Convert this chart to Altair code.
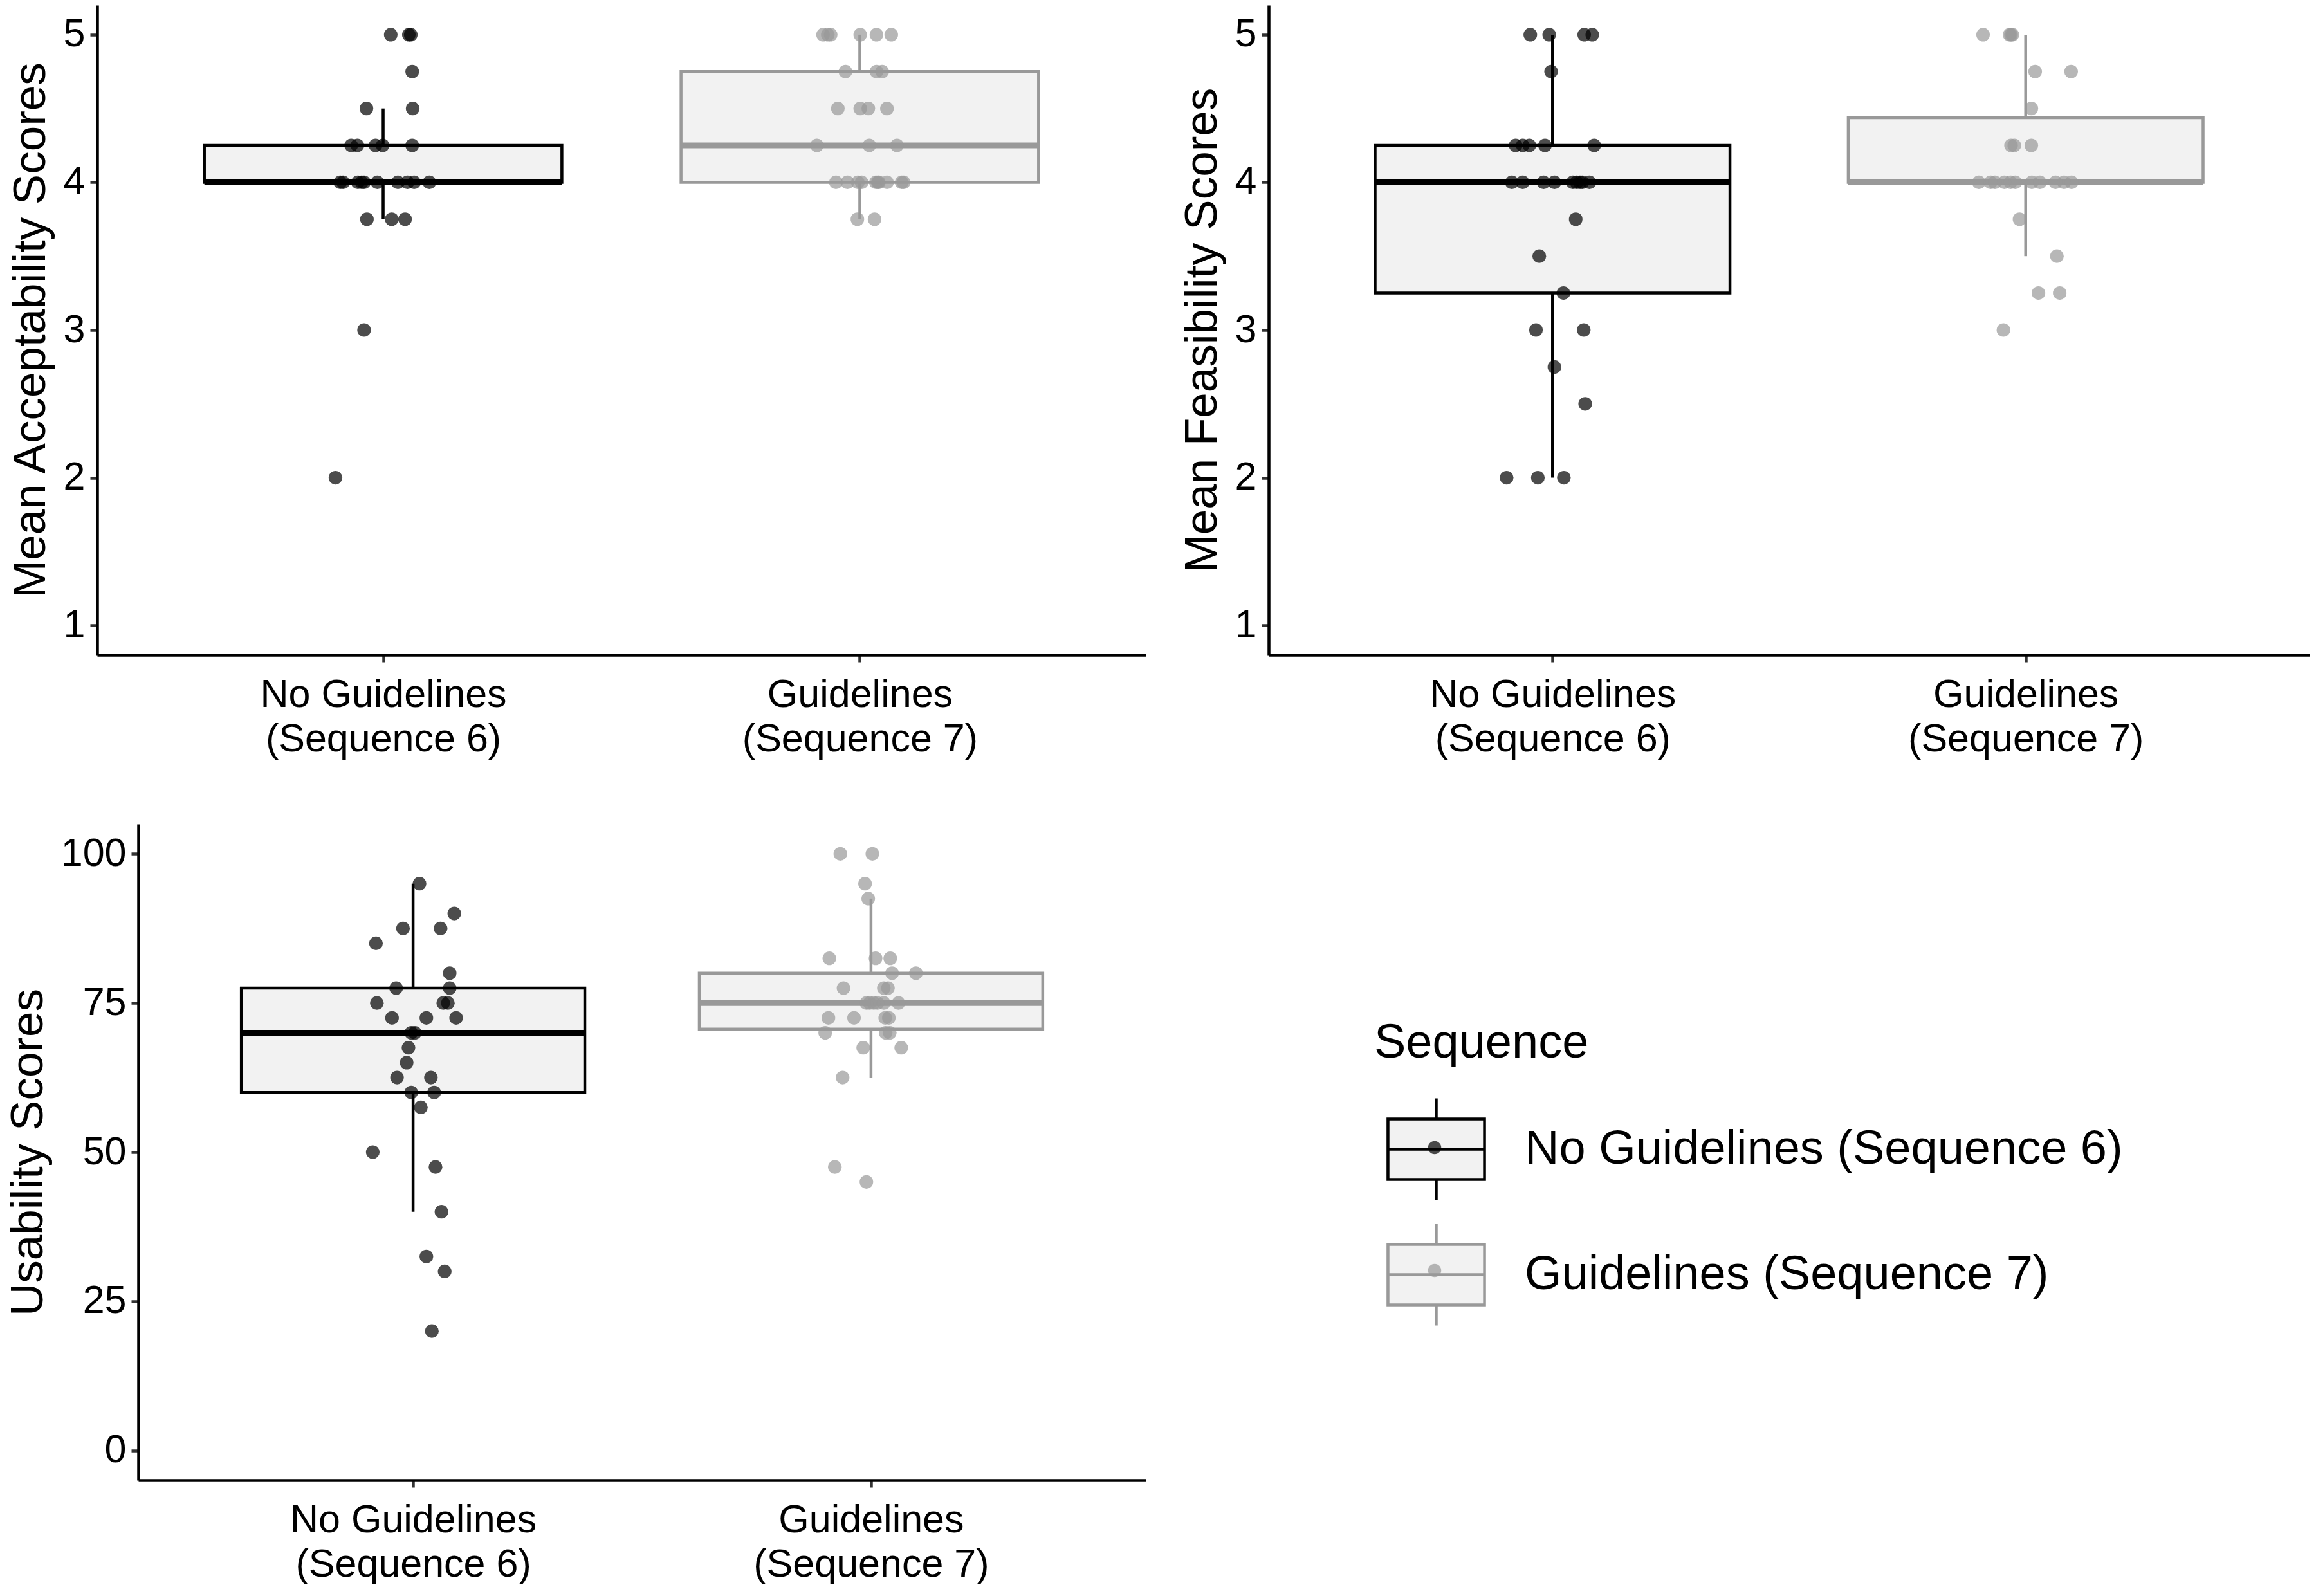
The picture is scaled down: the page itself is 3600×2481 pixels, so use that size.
import json
import altair as alt
import numpy as np
import pandas as pd

FONT = "Liberation Sans"
C_NO = "#000000"
C_YES = "#999999"
BOX_FILL = "#f2f2f2"

# ---- categories ----
groups = ["No Guidelines (Sequence 6)", "Guidelines (Sequence 7)"]
group_keys = ["S6", "S7"]
tick_lines = [["No Guidelines", "(Sequence 6)"], ["Guidelines", "(Sequence 7)"]]

# ---- Mean Acceptability Scores ----
acc_no = [5, 5, 5, 4.75, 4.5, 4.5, 4.25, 4.25, 4.25, 4.25, 4.25,
          4, 4, 4, 4, 4, 4, 4, 4, 4, 4, 3.75, 3.75, 3.75, 3, 2]
acc_no_jit = [0.016, 0.054, 0.058, 0.061, -0.035, 0.062, -0.067, -0.054, -0.016, -0.001, 0.061,
              -0.090, -0.084, -0.053, -0.045, -0.040, -0.012, 0.031, 0.051, 0.065, 0.097,
              -0.034, 0.018, 0.046, -0.040, -0.100]
acc_yes = [5, 5, 5, 5, 5, 5, 4.75, 4.75, 4.75, 4.5, 4.5, 4.5, 4.5, 4.25, 4.25, 4.25,
           4, 4, 4, 4, 4, 4, 4, 4, 4, 4, 3.75, 3.75]
acc_yes_jit = [-0.077, -0.067, -0.061, 0.001, 0.035, 0.066, -0.030, 0.035, 0.047,
               -0.046, 0.001, 0.018, 0.057, -0.090, 0.020, 0.078,
               -0.050, -0.026, -0.004, 0.004, 0.034, 0.038, 0.040, 0.057, 0.088, 0.092,
               -0.005, 0.031]

# ---- Mean Feasibility Scores ----
fea_no = [5, 5, 5, 5, 4.75, 4.25, 4.25, 4.25, 4.25, 4.25,
          4, 4, 4, 4, 4, 4, 4, 4, 4, 3.75, 3.5, 3.25, 3, 3, 2.75, 2.5, 2, 2, 2]
fea_no_jit = [-0.047, -0.007, 0.067, 0.084, -0.003, -0.078, -0.063, -0.049, -0.016, 0.088,
              -0.086, -0.063, -0.019, 0.004, 0.043, 0.051, 0.058, 0.063, 0.078,
              0.049, -0.028, 0.023, -0.035, 0.066, 0.004, 0.069, -0.097, -0.031, 0.024]
fea_yes = [5, 5, 5, 5, 4.75, 4.75, 4.5, 4.25, 4.25, 4.25,
           4, 4, 4, 4, 4, 4, 4, 4, 4, 4, 4, 3.75, 3.5, 3.25, 3.25, 3]
fea_yes_jit = [-0.090, -0.034, -0.031, -0.028, 0.020, 0.096, 0.012, -0.031, -0.024, 0.012,
               -0.099, -0.074, -0.065, -0.045, -0.032, -0.022, 0.013, 0.030, 0.063, 0.081, 0.097,
               -0.013, 0.066, 0.027, 0.072, -0.047]

# ---- Usability Scores ----
usa_no = [95, 90, 87.5, 87.5, 85, 80, 77.5, 77.5, 75, 75, 75, 72.5, 72.5, 72.5,
          70, 70, 67.5, 65, 62.5, 62.5, 60, 60, 57.5, 50, 47.5, 40, 32.5, 30, 20]
usa_no_jit = [0.014, 0.090, -0.022, 0.060, -0.081, 0.080, -0.037, 0.080, -0.079, 0.066, 0.076,
              -0.046, 0.029, 0.094, -0.004, 0.004, -0.010, -0.014, -0.035, 0.039,
              -0.004, 0.046, 0.017, -0.088, 0.049, 0.062, 0.029, 0.069, 0.041]
usa_yes = [100, 100, 95, 92.5, 82.5, 82.5, 82.5, 80, 80, 77.5, 77.5, 77.5,
           75, 75, 75, 75, 75, 75, 72.5, 72.5, 72.5, 72.5, 70, 70, 70, 67.5, 67.5, 62.5, 47.5, 45]
usa_yes_jit = [-0.067, 0.003, -0.013, -0.006, -0.091, 0.010, 0.042, 0.046, 0.098,
               -0.060, 0.028, 0.037, -0.010, -0.003, 0.006, 0.014, 0.028, 0.060,
               -0.093, -0.037, 0.031, 0.039, -0.100, 0.032, 0.041, -0.017, 0.066,
               -0.062, -0.079, -0.010]

acc_ticks = [1, 2, 3, 4, 5]
usa_ticks = [0, 25, 50, 75, 100]

# legend key glyphs (unit square -1..1)
BOX_PATH = ("M-0.95,-0.595H0.95V0.595H-0.95Z "
            "M-0.95,0H0.95 M0,-0.595V-1 M0,0.595V1")
DOT_PATH = ("M-1,-1L-1,-1 M1,1L1,1 "
            "M0.13,0A0.13,0.13,0,1,1,-0.13,0A0.13,0.13,0,1,1,0.13,0Z")


def points_df(vals_no, jit_no, vals_yes, jit_yes):
    rows = []
    for gi, (vals, jit) in enumerate([(vals_no, jit_no), (vals_yes, jit_yes)]):
        for v, j in zip(vals, jit):
            rows.append({"Sequence": groups[gi], "SeqKey": group_keys[gi],
                         "pos": gi + 1 + j, "value": v})
    return pd.DataFrame(rows)


def box_df(vals_no, vals_yes):
    rows = []
    for gi, vals in enumerate([vals_no, vals_yes]):
        a = np.array(vals, dtype=float)
        q1, med, q3 = np.percentile(a, [25, 50, 75])
        iqr = q3 - q1
        lo = a[a >= q1 - 1.5 * iqr].min()
        hi = a[a <= q3 + 1.5 * iqr].max()
        c = gi + 1
        rows.append({"Sequence": groups[gi], "center": c, "left": c - 0.375,
                     "right": c + 0.375, "q1": q1, "med": med, "q3": q3,
                     "lo": lo, "hi": hi})
    return pd.DataFrame(rows)


def js(v):
    return json.dumps(v).replace('"', "'")


label_expr = "datum.value == 1 ? %s : %s" % (js(tick_lines[0]), js(tick_lines[1]))

AX = dict(domainColor="black", domainWidth=4.5, tickColor="#333333", tickWidth=4.5,
          tickSize=11, labelFont=FONT, labelFontSize=61, labelColor="black", labelLimit=3000,
          titleFont=FONT, titleFontSize=71, titleFontWeight="normal", titleColor="black",
          titleLimit=3000, grid=False)

LEG = dict(orient="none", legendX=1985, legendY=305, symbolSize=24964, symbolOffset=15,
           labelFont=FONT, labelFontSize=74, labelLimit=3000, labelOffset=56,
           titleFont=FONT, titleFontSize=74, titleFontWeight="normal", titleLimit=3000,
           titlePadding=45)


def panel(pts, box, ytitle, ydomain, yvalues, width, height, legend, inset=0):
    # inset: room kept at the left of the view for wider y labels (axis drawn inside)
    xs = alt.Scale(domain=[0.4, 2.6], nice=False, zero=False, range=[inset, width])
    ys = alt.Scale(domain=ydomain, nice=False, zero=False)
    xax = alt.Axis(values=[1, 2], labelExpr=label_expr, title=None, labelPadding=21,
                   labelLineHeight=69, labelOverlap=False, **AX)
    yax_kw = dict(values=yvalues, title=ytitle, labelPadding=8, titlePadding=14, **AX)
    if inset:
        yax_kw["offset"] = -inset
    yax = alt.Axis(**yax_kw)

    def X(f):
        return alt.X(f, type="quantitative", scale=xs, axis=xax)

    def Y(f):
        return alt.Y(f, type="quantitative", scale=ys, axis=yax)

    if legend:
        leg_box = alt.Legend(title="Sequence", symbolType=BOX_PATH, symbolStrokeWidth=4.5,
                             symbolFillColor=BOX_FILL, labelColor="black",
                             titleColor="black", rowPadding=18, **LEG)
        leg_dot = alt.Legend(title=" ", symbolType=DOT_PATH, symbolStrokeWidth=0,
                             symbolOpacity=0.7, labelOpacity=0, rowPadding=33,
                             labelExpr="datum.value == 'S6' ? %s : %s" % (js(groups[0]), js(groups[1])),
                             **LEG)
    else:
        leg_box = None
        leg_dot = None

    stroke = alt.Stroke("Sequence:N", scale=alt.Scale(domain=groups, range=[C_NO, C_YES]),
                        legend=leg_box)
    color = alt.Color("SeqKey:N", scale=alt.Scale(domain=group_keys, range=[C_NO, C_YES]),
                      legend=leg_dot)

    b = alt.Chart(box)
    whisk_lo = b.mark_rule(strokeWidth=4.5).encode(x=X("center"), y=Y("lo"), y2="q1", stroke=stroke)
    whisk_hi = b.mark_rule(strokeWidth=4.5).encode(x=X("center"), y=Y("q3"), y2="hi", stroke=stroke)
    rect = b.mark_rect(fill=BOX_FILL, strokeWidth=4.5).encode(
        x=X("left"), x2="right", y=Y("q1"), y2="q3", stroke=stroke)
    med = b.mark_rule(strokeWidth=9).encode(x=X("left"), x2="right", y=Y("med"), stroke=stroke)
    pts_l = alt.Chart(pts).mark_circle(size=450, opacity=0.7).encode(
        x=X("pos"), y=Y("value"), color=color)
    return alt.layer(whisk_lo, whisk_hi, rect, med, pts_l).properties(width=width, height=height)


pA = panel(points_df(acc_no, acc_no_jit, acc_yes, acc_yes_jit), box_df(acc_no, acc_yes),
           "Mean Acceptability Scores", [0.8, 5.2], acc_ticks, 1630, 1010, False)
pB = panel(points_df(fea_no, fea_no_jit, fea_yes, fea_yes_jit), box_df(fea_no, fea_yes),
           "Mean Feasibility Scores", [0.8, 5.2], acc_ticks, 1618, 1010, False)
pC = panel(points_df(usa_no, usa_no_jit, usa_yes, usa_yes_jit), box_df(usa_no, usa_yes),
           "Usability Scores", [-5, 105], usa_ticks, 1630, 1020, True, inset=64)

top = alt.hconcat(pA, pB, spacing=52)
chart = alt.concat(top, pC, columns=1, spacing=102).resolve_scale(
    color="independent", stroke="independent"
).configure(background="white", font=FONT, padding=0).configure_view(
    stroke="transparent", strokeWidth=0)

chart.save("out.html", embed_options={"renderer": "svg", "actions": False})
